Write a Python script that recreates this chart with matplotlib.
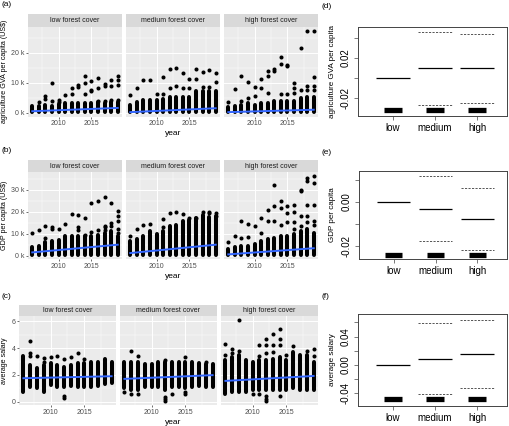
import matplotlib.pyplot as plt
import numpy as np

plt.rcParams['font.family'] = ['Liberation Sans', 'DejaVu Sans']

years = list(range(2006, 2020))
facet_titles = ["low forest cover", "medium forest cover", "high forest cover"]
cover_groups = ["low", "medium", "high"]

# (a) agriculture GVA per capita, thousand US$ -- dense column (bottom/top) + separate dots
agri_low_bot = [0.1, 0.1, 0.1, 0.1, 0.1, 0.1, 0.1, 0.1, 0.1, 0.1, 0.1, 0.1, 0.1, 0.1]
agri_low_top = [2.1, 2.2, 2.7, 2.4, 2.9, 3.1, 3.1, 3.1, 3.3, 3.2, 3.5, 3.4, 3.6, 3.6]
agri_low_pts = [[], [3.6], [4.7, 5.6], [4.0, 9.8], [3.6, 4.4], [5.9], [6.3, 8.2], [8.6, 9.1],
                [6.2, 9.9, 12.4], [7.1, 7.7, 10.6], [3.8, 8.2, 11.7], [3.8, 9.0, 9.7],
                [4.2, 9.0, 10.8], [4.2, 9.4, 10.9, 12.4]]
agri_low_fit = [0.5, 1.6]

agri_med_bot = [0.1, 0.1, 0.1, 0.1, 0.1, 0.1, 0.1, 0.1, 0.1, 0.1, 0.1, 0.1, 0.1, 0.1]
agri_med_top = [2.7, 3.6, 4.4, 4.4, 4.4, 4.7, 5.4, 5.4, 5.4, 5.4, 7.1, 7.1, 7.1, 7.1]
agri_med_pts = [[6.0], [8.4], [10.8], [11.0], [6.1], [6.1, 11.8], [8.2, 14.7], [9.0, 14.8],
                [8.2, 13.4], [8.2, 11.4], [11.3, 14.4], [8.7, 13.7], [8.7, 14.2], [10.3, 13.4]]
agri_med_fit = [0.2, 1.5]

agri_high_bot = [0.1, 0.1, 0.1, 0.1, 0.1, 0.1, 0.1, 0.1, 0.1, 0.1, 0.1, 0.1, 0.1, 0.1]
agri_high_top = [2.0, 2.2, 2.7, 3.2, 2.7, 3.1, 3.1, 3.8, 3.8, 3.8, 3.8, 4.9, 5.4, 5.4]
agri_high_pts = [[3.6], [7.9], [4.0, 12.1], [4.9, 10.3], [5.6, 8.6], [8.2, 11.3],
                 [6.5, 12.4, 13.8], [14.0, 14.6], [6.2, 16.1, 18.4], [6.2, 15.6, 16.0],
                 [6.5, 8.2, 9.8], [7.6, 21.6], [7.6, 9.0, 27.2], [7.6, 9.0, 11.8, 27.2]]
agri_high_fit = [0.2, 1.0]

# (b) GDP per capita, thousand US$
gdp_low_bot = [0.3, 0.3, 0.3, 0.3, 0.3, 0.3, 0.3, 0.3, 0.3, 0.3, 0.3, 0.3, 0.3, 0.3]
gdp_low_top = [4.1, 4.6, 6.0, 6.5, 7.0, 9.0, 9.0, 9.0, 9.0, 9.0, 9.4, 10.4, 11.2, 9.0]
gdp_low_pts = [[10.1], [11.5], [7.9, 13.4], [11.9, 12.9], [12.2], [14.4], [18.8],
               [11.5, 12.9, 18.4], [9.4, 17.1], [10.7, 24.1], [11.5, 24.9],
               [11.5, 12.9, 13.6, 26.6], [13.6, 14.9, 24.1], [10.5, 12.0, 15.6, 17.8, 20.3]]
gdp_low_fit = [1.5, 5.0]

gdp_med_bot = [0.3, 0.3, 0.3, 0.3, 0.3, 0.3, 0.3, 0.3, 0.3, 0.3, 0.3, 0.3, 0.3, 0.3]
gdp_med_top = [6.8, 7.5, 9.0, 11.2, 9.7, 11.2, 13.4, 14.1, 15.6, 16.3, 17.0, 18.5, 17.5, 18.0]
gdp_med_pts = [[9.0], [11.9], [14.1], [14.4], [], [12.9, 16.6], [19.3], [20.0], [18.8],
               [17.0], [17.3], [20.0], [19.3, 20.0], [18.1, 19.3]]
gdp_med_fit = [1.2, 5.0]

gdp_high_bot = [0.3, 0.3, 0.3, 0.3, 0.3, 0.3, 0.3, 0.3, 0.3, 0.3, 0.3, 0.3, 0.3, 0.3]
gdp_high_top = [3.1, 3.8, 4.6, 4.6, 5.3, 6.8, 7.5, 8.2, 9.0, 9.0, 9.7, 11.2, 11.9, 10.4]
gdp_high_pts = [[6.0], [9.0], [8.2, 15.9], [8.5, 14.4], [13.4], [10.4, 17.1], [15.9, 20.7],
                [15.9, 22.6, 32.2], [14.1, 21.5, 24.7], [15.3, 19.3, 22.5],
                [11.9, 15.3, 20.0, 22.9], [13.4, 18.2, 29.3, 29.8],
                [15.3, 18.2, 22.9, 34.0, 35.4], [14.1, 15.9, 22.9, 32.9, 36.2]]
gdp_high_fit = [0.6, 3.4]

# (c) average salary
sal_low_bot = [0.75, 1.1, 1.0, 0.75, 1.25, 1.1, 1.1, 1.15, 1.1, 1.1, 1.1, 1.2, 1.3, 1.4]
sal_low_top = [3.4, 2.75, 2.5, 2.75, 2.9, 2.75, 2.6, 2.75, 2.9, 2.9, 3.0, 3.0, 3.2, 3.0]
sal_low_pts = [[], [3.4, 3.6, 4.5], [3.4], [3.0, 3.25], [3.3], [3.4], [0.25, 0.4, 3.2],
               [3.3], [3.6], [3.2], [], [], [], []]
sal_low_fit = [1.75, 1.9]

sal_med_bot = [1.0, 0.85, 0.85, 1.1, 1.1, 1.1, 0.85, 1.1, 1.1, 1.0, 1.1, 1.2, 1.1, 1.1]
sal_med_top = [3.0, 3.0, 3.0, 2.85, 2.85, 3.0, 3.0, 3.0, 2.95, 3.0, 3.0, 2.9, 2.8, 2.85]
sal_med_pts = [[0.75], [0.6, 3.75], [0.6, 3.4], [], [], [], [0.05, 0.2, 0.35, 3.1], [0.55],
               [], [0.6, 0.75, 3.35], [], [], [3.0], []]
sal_med_fit = [1.7, 1.98]

sal_high_bot = [0.6, 0.75, 0.75, 0.75, 0.85, 0.85, 0.85, 0.85, 0.85, 0.85, 1.0, 0.85, 0.85, 0.85]
sal_high_top = [3.1, 3.3, 3.45, 3.1, 3.0, 3.1, 3.1, 3.2, 3.3, 3.1, 3.7, 3.45, 3.45, 3.0]
sal_high_pts = [[3.45, 4.3], [3.65, 3.9], [3.8, 6.1], [], [0.6], [0.6, 3.4, 4.25],
                [0.05, 0.2, 0.45, 3.6, 4.25, 4.7], [3.7, 4.25, 5.05], [0.45, 4.2, 4.65, 5.45],
                [3.5], [4.15], [], [3.8], [3.4, 3.95]]
sal_high_fit = [1.55, 1.92]

# (d)-(f) effect estimates per forest-cover group
d_mid = [0.0, 0.010, 0.010]
d_upper = [0.046, 0.044]   # medium, high
d_lower = [-0.027, -0.025]
d_bar = -0.032
e_mid = [0.0, -0.003, -0.0079]
e_upper = [0.012, 0.0062]
e_lower = [-0.0177, -0.0218]
e_bar = -0.024
f_mid = [0.0, 0.008, 0.0155]
f_upper = [0.059, 0.0635]
f_lower = [-0.0415, -0.033]
f_bar = -0.0485

W, H = 510, 426
fig = plt.figure(figsize=(W / 100, H / 100), dpi=100)


def px_axes(x0, y0, x1, y1):
    return fig.add_axes([x0 / W, 1 - y1 / H, (x1 - x0) / W, (y1 - y0) / H])


def facet_row(strip_top, top, bottom, xs, data, yticks, ylabels, yminor, ytitle, label, label_y):
    axes = []
    for i, (x0, x1) in enumerate(xs):
        ax = px_axes(x0, top, x1, bottom)
        if axes:
            ax.sharey(axes[0])
        bot, tp, pts, fit = data[i]
        ax.set_facecolor('#EBEBEB')
        for s in ax.spines.values():
            s.set_visible(False)
        ax.vlines(years, bot, tp, colors='black', linewidth=2.9, capstyle='round', zorder=3)
        px = [yr for yr, p in zip(years, pts) for _ in p]
        py = [v for p in pts for v in p]
        ax.scatter(px, py, s=8.5, color='black', linewidths=0, zorder=3)
        ax.plot([years[0], years[-1]], fit, color='#3366FF', lw=1.4, zorder=4)
        ax.set_xticks([2010, 2015])
        ax.set_xticks([2007.5, 2012.5, 2017.5], minor=True)
        ax.set_yticks(yticks)
        ax.set_yticks(yminor, minor=True)
        ax.grid(True, which='major', color='white', lw=0.7)
        ax.grid(True, which='minor', color='white', lw=0.35)
        ax.set_axisbelow(True)
        ax.tick_params(which='major', length=1.6, width=0.5, color='#333333',
                       labelsize=5, labelcolor='#4D4D4D', pad=1)
        ax.tick_params(which='minor', length=0)
        if i == 0:
            ax.set_yticklabels(ylabels)
        else:
            ax.tick_params(axis='y', left=False, labelleft=False)
        sx = px_axes(x0, strip_top, x1, top)
        sx.set_facecolor('#D9D9D9')
        sx.set_xticks([])
        sx.set_yticks([])
        for s in sx.spines.values():
            s.set_visible(False)
        sx.text(0.5, 0.5, facet_titles[i], ha='center', va='center', fontsize=5,
                color='#1A1A1A', transform=sx.transAxes)
        axes.append(ax)
    fig.text(173 / W, 1 - (bottom + 17) / H, "year", ha='center', va='center', fontsize=6)
    fig.text(5 / W, 1 - (top + bottom) / 2 / H, ytitle, rotation=90,
             ha='center', va='center', fontsize=5.1)
    fig.text(2 / W, 1 - label_y / H, label, ha='left', va='center', fontsize=6)
    return axes


def effect_plot(x0, y0, x1, y1, mid, upper, lower, bar_y, ylim, ticks, labels, ytitle, label, label_y):
    ax = px_axes(x0, y0, x1, y1)
    x = np.arange(1, 4)
    ax.hlines(mid, x - 0.4, x + 0.4, color='black', lw=0.9)
    ax.hlines(upper, x[1:] - 0.4, x[1:] + 0.4, color='#555555', lw=0.7, linestyles=(0, (2.2, 1.4)))
    ax.hlines(lower, x[1:] - 0.4, x[1:] + 0.4, color='#555555', lw=0.7, linestyles=(0, (2.2, 1.4)))
    ax.hlines([bar_y] * 3, x - 0.21, x + 0.21, color='black', lw=3.8)
    ax.set_xlim(0.17, 3.71)
    ax.set_ylim(*ylim)
    ax.set_xticks(x)
    ax.set_xticklabels(cover_groups)
    ax.set_yticks(ticks)
    ax.set_yticklabels(labels, rotation=90, va='center')
    ax.tick_params(length=3, width=0.5, color='#444444', labelsize=7, pad=2)
    for s in ax.spines.values():
        s.set_color('#444444')
        s.set_linewidth(0.7)
    fig.text(332 / W, 1 - (y0 + y1) / 2 / H, ytitle, rotation=90, ha='center', va='center', fontsize=5.8)
    fig.text(322 / W, 1 - label_y / H, label, ha='left', va='center', fontsize=6)


xs_ab = [(28, 122), (126, 220), (224, 318)]
xs_c = [(19, 116), (120, 217), (221, 318)]

facet_row(14, 27, 116.5, xs_ab,
          [(agri_low_bot, agri_low_top, agri_low_pts, agri_low_fit),
           (agri_med_bot, agri_med_top, agri_med_pts, agri_med_fit),
           (agri_high_bot, agri_high_top, agri_high_pts, agri_high_fit)],
          [0, 10, 20], ["0 k", "10 k", "20 k"], [5, 15, 25],
          "agriculture GVA per capita (US$)", "(a)", 5)

facet_row(160, 172, 259, xs_ab,
          [(gdp_low_bot, gdp_low_top, gdp_low_pts, gdp_low_fit),
           (gdp_med_bot, gdp_med_top, gdp_med_pts, gdp_med_fit),
           (gdp_high_bot, gdp_high_top, gdp_high_pts, gdp_high_fit)],
          [0, 10, 20, 30], ["0 k", "10 k", "20 k", "30 k"], [5, 15, 25, 35],
          "GDP per capita (US$)", "(b)", 151)

facet_row(305, 316, 405, xs_c,
          [(sal_low_bot, sal_low_top, sal_low_pts, sal_low_fit),
           (sal_med_bot, sal_med_top, sal_med_pts, sal_med_fit),
           (sal_high_bot, sal_high_top, sal_high_pts, sal_high_fit)],
          [0, 2, 4, 6], ["0", "2", "4", "6"], [1, 3, 5],
          "average salary", "(c)", 297)

effect_plot(358, 27, 507, 116, d_mid, d_upper, d_lower, d_bar, (-0.038, 0.051),
            [-0.02, 0.0, 0.02, 0.04], ["-0.02", "", "0.02", ""],
            "agriculture GVA per capita", "(d)", 6)
effect_plot(359, 171, 507, 259, e_mid, e_upper, e_lower, e_bar, (-0.0259, 0.0141),
            [-0.02, -0.01, 0.0, 0.01], ["-0.02", "", "0.00", ""],
            "GDP per capita", "(e)", 152)
effect_plot(358, 314, 507, 406, f_mid, f_upper, f_lower, f_bar, (-0.058, 0.072),
            [-0.04, -0.02, 0.0, 0.02, 0.04, 0.06], ["-0.04", "", "0.00", "", "0.04", ""],
            "average salary", "(f)", 296)

fig.savefig("out.png", dpi=100)
